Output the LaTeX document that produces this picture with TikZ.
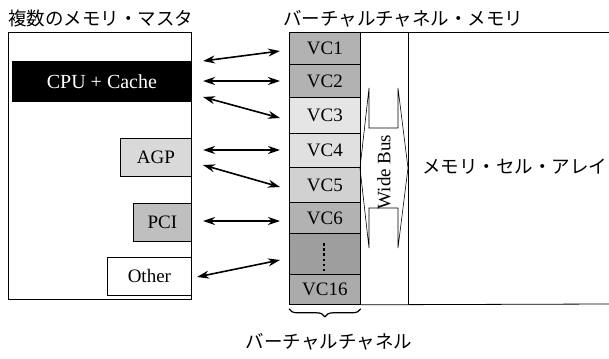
\documentclass[tikz,border=0pt]{standalone}
\usepackage{fontspec}
\setmainfont{Liberation Serif}
\newfontfamily\jp{Noto Sans CJK JP}
\usetikzlibrary{arrows.meta,decorations.pathreplacing}
\begin{document}
\begin{tikzpicture}[x=1pt,y=-1pt,
  box/.style={draw, line width=0.8pt, inner sep=0pt, anchor=north west},
  vc/.style={box, minimum width=71pt, font=\fontsize{19}{21}\selectfont},
  dev/.style={box, minimum height=38pt, font=\fontsize{19}{21}\selectfont},
  lbl/.style={inner sep=0pt, font=\jp\fontsize{18.5}{20}\selectfont},
  link/.style={line width=1.6pt, {Stealth[length=12pt,width=8pt]}-{Stealth[length=12pt,width=8pt]}},
  thin/.style={line width=0.6pt}]
\useasboundingbox (0,0) rectangle (609,358);

% titles
\node[lbl, anchor=west] (t1) at (8,18.5) {複数のメモリ・マスタ};
\node[lbl, anchor=west] (t2) at (283,18.5) {バーチャルチャネル・メモリ};

% masters
\node[box, minimum width=183pt, minimum height=267pt] (masters) at (8,32) {};
\node[box, fill=black, text=white, minimum width=179pt, minimum height=40pt,
      font=\fontsize{20}{22}\selectfont] (cpu) at (12,61) {CPU + Cache};
\node[dev, fill=black!15, minimum width=71pt] (agp) at (120,138) {AGP};
\node[dev, fill=black!25, minimum width=58pt] (pci) at (133,203) {PCI};
\node[dev, fill=white, minimum width=84pt] (other) at (107,257) {Other};

% virtual channels
\node[vc, fill=black!30, minimum height=32pt] (vc1) at (289,32) {VC1};
\node[vc, fill=black!30, minimum height=33pt] (vc2) at (289,64) {VC2};
\node[vc, fill=black!10, minimum height=36pt] (vc3) at (289,97) {VC3};
\node[vc, fill=black!12, minimum height=34pt] (vc4) at (289,133) {VC4};
\node[vc, fill=black!18, minimum height=35pt] (vc5) at (289,167) {VC5};
\node[vc, fill=black!30, minimum height=31pt] (vc6) at (289,202) {VC6};
\node[vc, fill=black!38, minimum height=41pt] (vcd) at (289,233) {};
\node[vc, fill=black!33, minimum height=30pt] (vc16) at (289,274) {VC16};
\draw[line width=2.6pt, dash pattern=on 2.6pt off 2.6pt]
  ([xshift=-1pt,yshift=11pt]vcd.center) -- ([xshift=-1pt,yshift=-17pt]vcd.center);

% memory frame
\draw[line width=0.8pt] (vc1.north east) -- (609,32);
\draw[line width=0.8pt] (vc16.south east) -- (609,304);
\draw[line width=0.8pt] (408,32) -- (408,304);
\node[lbl, anchor=west] (cell) at (422,167) {メモリ・セル・アレイ};

% wide bus
\draw[thin] (369,128) -- (369,88) -- (360,168) -- (369,248) -- (369,208)
  -- (398,208) -- (398,248) -- (408,168) -- (398,88) -- (398,128) -- cycle;
\node[inner sep=0pt, rotate=90, font=\fontsize{19}{21}\selectfont] (bus) at (384,172) {Wide Bus};

% links
\coordinate (a1l) at (203,61);  \coordinate (a1r) at (280,51);
\coordinate (a2l) at (203,81);  \coordinate (a2r) at (280,81);
\coordinate (a3l) at (203,97);  \coordinate (a3r) at (280,118);
\coordinate (a4l) at (203,150); \coordinate (a4r) at (280,150);
\coordinate (a5l) at (203,165); \coordinate (a5r) at (280,187);
\coordinate (a6l) at (203,221); \coordinate (a6r) at (280,221);
\coordinate (a7l) at (197,277); \coordinate (a7r) at (280,260);
\foreach \i in {1,...,7} { \draw[link] (a\i l) -- (a\i r); }

% brace
\draw[line width=1.2pt, decorate, decoration={brace, mirror, amplitude=8pt}]
  ([yshift=-4pt]vc16.south west) -- ([yshift=-4pt]vc16.south east);
\node[lbl] (vclabel) at (329,342) {バーチャルチャネル};
\end{tikzpicture}
\end{document}
